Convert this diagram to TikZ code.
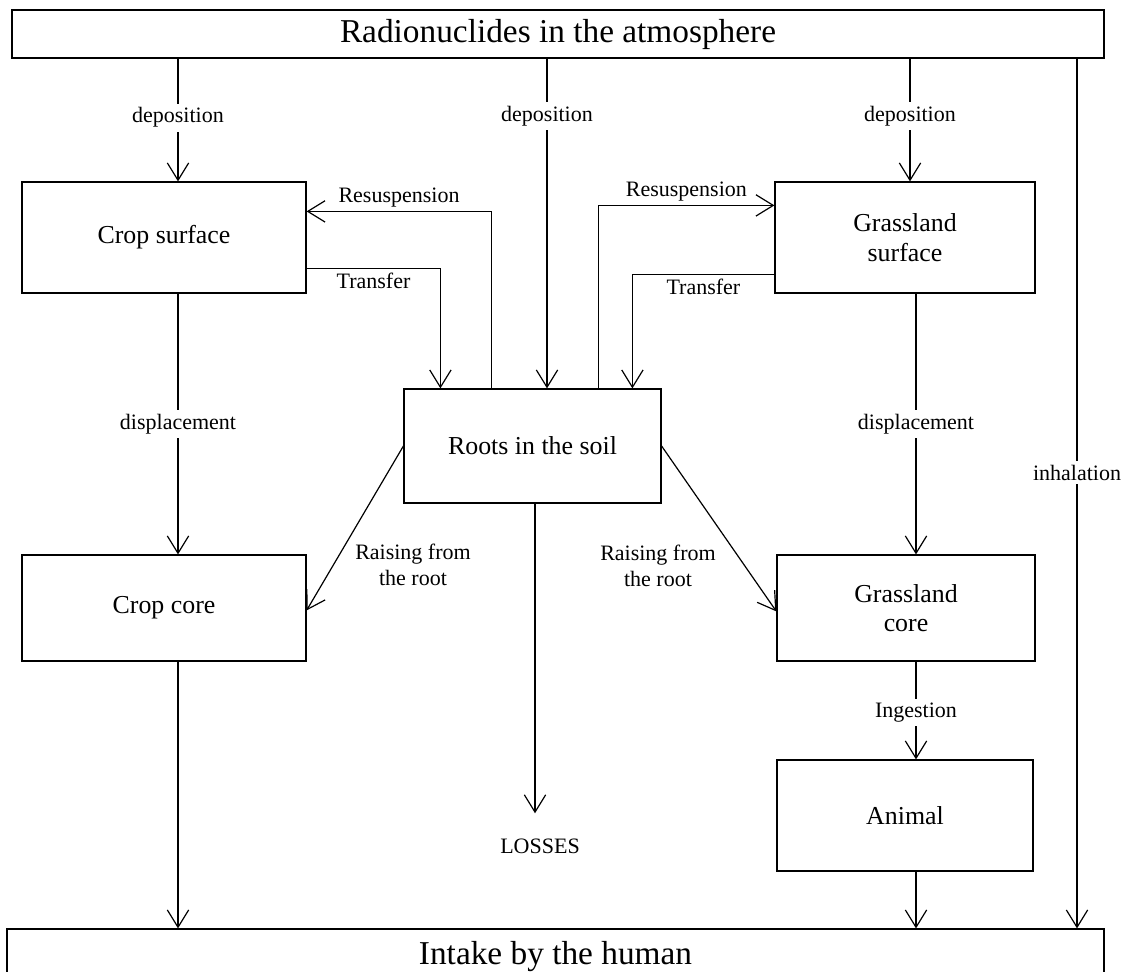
\documentclass[tikz,border=0pt]{standalone}
\usepackage{fontspec}
\setmainfont{Liberation Serif}
\usetikzlibrary{calc,arrows.meta,positioning}

\begin{document}
\begin{tikzpicture}[x=0.75pt,y=-0.75pt,line width=0.9pt,
  flow/.style={-{Straight Barb[length=13pt,width=16pt,line width=0.9pt]}},
  wide/.style={draw,inner sep=0pt,font=\fontsize{25}{28}\selectfont},
  box/.style={draw,align=center,inner sep=0pt,font=\fontsize{19.4}{22}\selectfont},
  lbl/.style={align=center,inner sep=3pt,font=\fontsize{16.5}{19.5}\selectfont},
  cut/.style={lbl,fill=white}]
\useasboundingbox (0,0) rectangle (1126,971);
\node[wide,minimum width=819pt,minimum height=36pt] (atm) at (558,34) {Radionuclides in the atmosphere};
\node[wide,minimum width=822.75pt,minimum height=42pt] (intake) at (555.5,957) {Intake by the human};
\node[box,minimum width=213pt,minimum height=83.25pt] (cs) at (164,237.5) {Crop surface};
\node[box,minimum width=195pt,minimum height=83.25pt] (gs) at (905,237.5) {Grassland\\surface};
\node[box,minimum width=192.75pt,minimum height=85.5pt] (roots) at (532.5,446) {Roots in the soil};
\node[box,minimum width=213pt,minimum height=79.5pt] (cc) at (164,608) {Crop core};
\node[box,minimum width=193.5pt,minimum height=79.5pt] (gc) at (906,608) {Grassland\\core};
\node[box,minimum width=192pt,minimum height=83.25pt] (animal) at (905,815.5) {Animal};
\node[lbl,inner sep=0pt,outer ysep=19pt] (losses) at (540,846) {LOSSES};
\node[lbl] (raiseL) at (413,565) {Raising from\\the root};
\node[lbl] (raiseR) at (658,566) {Raising from\\the root};
\coordinate (xl) at (178,0);
\coordinate (xm) at (547,0);
\coordinate (xd) at (910,0);
\coordinate (xr) at (916,0);
\coordinate (xi) at (1077,0);
\coordinate (xo) at (535,0);
\draw[flow] (atm.south -| xl) -- node[cut,pos=0.48]{deposition} (cs.north -| xl);
\draw[flow] (atm.south -| xm) -- node[cut,pos=0.175]{deposition} (roots.north -| xm);
\draw[flow] (atm.south -| xd) -- node[cut,pos=0.47]{deposition} (gs.north -| xd);
\draw[flow] (atm.south -| xi) -- node[cut,pos=0.476]{inhalation} (intake.north -| xi);
\draw[flow] ($(roots.north west)+(88,0)$) |- node[lbl,pos=0.75,above]{Resuspension} ($(cs.north east)+(0,30)$);
\draw[flow] ($(cs.north east)+(0,87)$) -| node[lbl,pos=0.25,below]{Transfer} ($(roots.north west)+(37,0)$);
\draw[flow] ($(roots.north west)+(195,0)$) |- node[lbl,pos=0.75,above]{Resuspension} ($(gs.north west)+(0,24)$);
\draw[flow] ($(gs.north west)+(0,93)$) -| node[lbl,pos=0.25,below]{Transfer} ($(roots.north west)+(229,0)$);
\draw[flow] (cs.south -| xl) -- node[cut]{displacement} (cc.north -| xl);
\draw[flow] (gs.south -| xr) -- node[cut]{displacement} (gc.north -| xr);
\draw[flow] (roots.west) -- ($(cc.north east)+(0,56)$);
\draw[flow] (roots.east) -- ($(gc.north west)+(0,57)$);
\draw[flow] (roots.south -| xo) -- (losses.north -| xo);
\draw[flow] (cc.south -| xl) -- (intake.north -| xl);
\draw[flow] (gc.south -| xr) -- node[cut,pos=0.52]{Ingestion} (animal.north -| xr);
\draw[flow] (animal.south -| xr) -- (intake.north -| xr);
\end{tikzpicture}
\end{document}
